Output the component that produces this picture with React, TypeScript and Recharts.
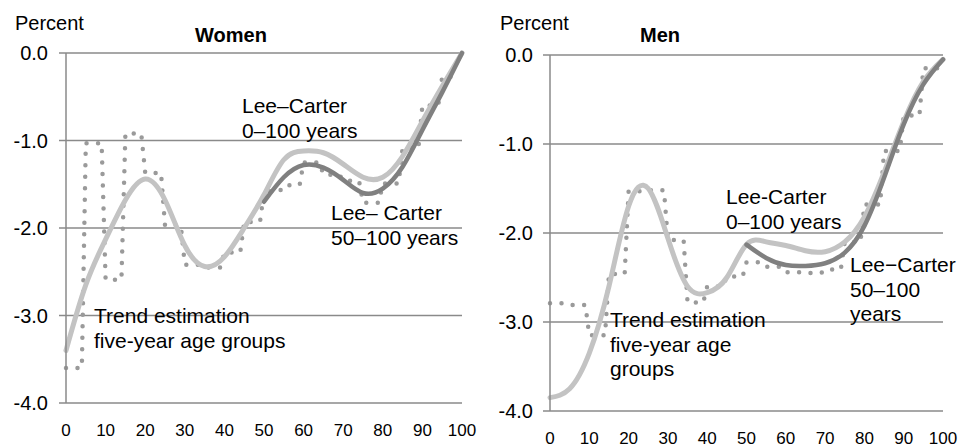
import { LineChart, Line, XAxis, YAxis, CartesianGrid } from "recharts";

const FONT = '"Liberation Sans", Arial, Helvetica, sans-serif';

// x axis: age in years, y axis: percent
const ageTicks = [0, 10, 20, 30, 40, 50, 60, 70, 80, 90, 100];
const percentTicks = [-4, -3, -2, -1, 0];

const curveAges = [0, 5, 10, 15, 20, 25, 30, 35, 40, 45, 50, 55, 60, 65, 70, 75, 80, 85, 90, 95, 100];
const tailAges = [50, 55, 60, 65, 70, 75, 80, 85, 90, 95, 100];
// five-year age groups 0–4 ... 95–99
const groupStarts = [0, 5, 10, 15, 20, 25, 30, 35, 40, 45, 50, 55, 60, 65, 70, 75, 80, 85, 90, 95];

// Women
const womenTrend = [
  -3.6, -1.03, -2.59, -0.92, -1.37, -1.97, -2.42, -2.45, -2.28, -1.93,
  -1.58, -1.51, -1.25, -1.39, -1.46, -1.71, -1.49, -1.08, -0.6, -0.27,
];
const womenLeeCarterAll = [
  -3.4, -2.65, -2.13, -1.68, -1.44, -1.68, -2.2, -2.44, -2.33, -2.0,
  -1.62, -1.22, -1.12, -1.14, -1.27, -1.42, -1.42, -1.18, -0.78, -0.38, 0,
];
const womenLeeCarterTail = [-1.7, -1.42, -1.28, -1.31, -1.45, -1.6, -1.55, -1.3, -0.88, -0.45, 0];

// Men
const menTrend = [
  -2.79, -2.81, -3.15, -2.46, -1.53, -1.52, -2.08, -2.78, -2.6, -2.49,
  -2.33, -2.38, -2.44, -2.45, -2.41, -2.1, -1.68, -1.08, -0.68, -0.15,
];
const menLeeCarterAll = [
  -3.85, -3.75, -3.35, -2.6, -1.7, -1.5, -2.06, -2.6, -2.67, -2.5,
  -2.13, -2.1, -2.14, -2.2, -2.21, -2.1, -1.82, -1.32, -0.75, -0.3, -0.05,
];
const menLeeCarterTail = [-2.13, -2.28, -2.36, -2.37, -2.34, -2.22, -1.92, -1.38, -0.78, -0.33, -0.05];

type Pt = { age: number; value: number };

const toPoints = (ages: number[], values: number[]): Pt[] =>
  ages.map((age, i) => ({ age, value: values[i] }));

// each five-year group is flat over its ages
const toGroupPoints = (values: number[]): Pt[] =>
  groupStarts.flatMap((start, i) => [
    { age: start, value: values[i] },
    { age: start + 4, value: values[i] },
  ]);

interface Note {
  x: number;
  y: number; // baseline of first line
  lines: string[];
}

interface PanelProps {
  left: number;
  margin: { top: number; right: number; bottom: number; left: number };
  axisWidth: number;
  labelGap: number;
  trend: Pt[];
  all: Pt[];
  tail: Pt[];
}

const GRID = "#8a8a8a";

function Panel({ left, margin, axisWidth, labelGap, trend, all, tail }: PanelProps) {
  return (
    <div style={{ position: "absolute", left, top: 0 }}>
      <LineChart width={480} height={447} margin={margin}>
        <CartesianGrid vertical={false} stroke={GRID} strokeWidth={1.5} />
        <XAxis
          dataKey="age"
          type="number"
          domain={[0, 100]}
          ticks={ageTicks}
          interval={0}
          height={30}
          axisLine={false}
          tickLine={false}
          tickSize={8}
          tickMargin={13}
          tick={{ fill: "#000", fontSize: 17, fontFamily: FONT }}
        />
        <YAxis
          type="number"
          domain={[-4, 0]}
          ticks={percentTicks}
          width={axisWidth}
          tickFormatter={(v: number) => v.toFixed(1)}
          axisLine={{ stroke: GRID, strokeWidth: 1.5 }}
          tickLine={{ stroke: GRID, strokeWidth: 1.5 }}
          tickSize={7}
          tickMargin={labelGap}
          tick={{ fill: "#000", fontSize: 20, fontFamily: FONT }}
        />
        {/* trend estimation, five-year age groups */}
        <Line
          data={trend}
          dataKey="value"
          type="linear"
          stroke="#9a9a9a"
          strokeWidth={4.5}
          strokeDasharray="0 11.5"
          strokeLinecap="round"
          dot={false}
          activeDot={false}
          isAnimationActive={false}
        />
        {/* Lee–Carter 0–100 years */}
        <Line
          data={all}
          dataKey="value"
          type="natural"
          stroke="#c3c3c3"
          strokeWidth={5}
          strokeLinecap="round"
          dot={false}
          activeDot={false}
          isAnimationActive={false}
        />
        {/* Lee–Carter 50–100 years */}
        <Line
          data={tail}
          dataKey="value"
          type="natural"
          stroke="#808080"
          strokeWidth={4.5}
          strokeLinecap="round"
          dot={false}
          activeDot={false}
          isAnimationActive={false}
        />
      </LineChart>
    </div>
  );
}

const notes: Note[] = [
  { x: 242, y: 113, lines: ["Lee–Carter", "0–100 years"] },
  { x: 331, y: 220, lines: ["Lee– Carter", "50–100 years"] },
  { x: 94, y: 323, lines: ["Trend estimation", "five-year age groups"] },
  { x: 726, y: 204, lines: ["Lee-Carter", "0–100 years"] },
  { x: 850, y: 272, lines: ["Lee−Carter", "50–100", "years"] },
  { x: 610, y: 327, lines: ["Trend estimation", "five-year age", "groups"] },
];

export default function App() {
  return (
    <div
      style={{
        position: "absolute",
        left: 0,
        top: 0,
        width: 960,
        height: 447,
        background: "#fff",
        overflow: "hidden",
        fontFamily: FONT,
      }}
    >
      <Panel
        left={0}
        margin={{ top: 53, right: 18, bottom: 14, left: 0 }}
        axisWidth={66}
        labelGap={11}
        trend={toGroupPoints(womenTrend)}
        all={toPoints(curveAges, womenLeeCarterAll)}
        tail={toPoints(tailAges, womenLeeCarterTail)}
      />
      <Panel
        left={480}
        margin={{ top: 55, right: 17, bottom: 6, left: 0 }}
        axisWidth={70}
        labelGap={10}
        trend={toGroupPoints(menTrend)}
        all={toPoints(curveAges, menLeeCarterAll)}
        tail={toPoints(tailAges, menLeeCarterTail)}
      />
      <svg
        width={960}
        height={447}
        style={{ position: "absolute", left: 0, top: 0, pointerEvents: "none" }}
        fontFamily={FONT}
      >
        <text x={15} y={30} fontSize={20}>Percent</text>
        <text x={195} y={42} fontSize={20} fontWeight="bold">Women</text>
        <text x={500} y={30} fontSize={20}>Percent</text>
        <text x={640} y={42} fontSize={20} fontWeight="bold">Men</text>
        {notes.map((n, i) =>
          n.lines.map((line, j) => (
            <text key={`${i}-${j}`} x={n.x} y={n.y + j * 24.5} fontSize={21}>
              {line}
            </text>
          ))
        )}
      </svg>
    </div>
  );
}
